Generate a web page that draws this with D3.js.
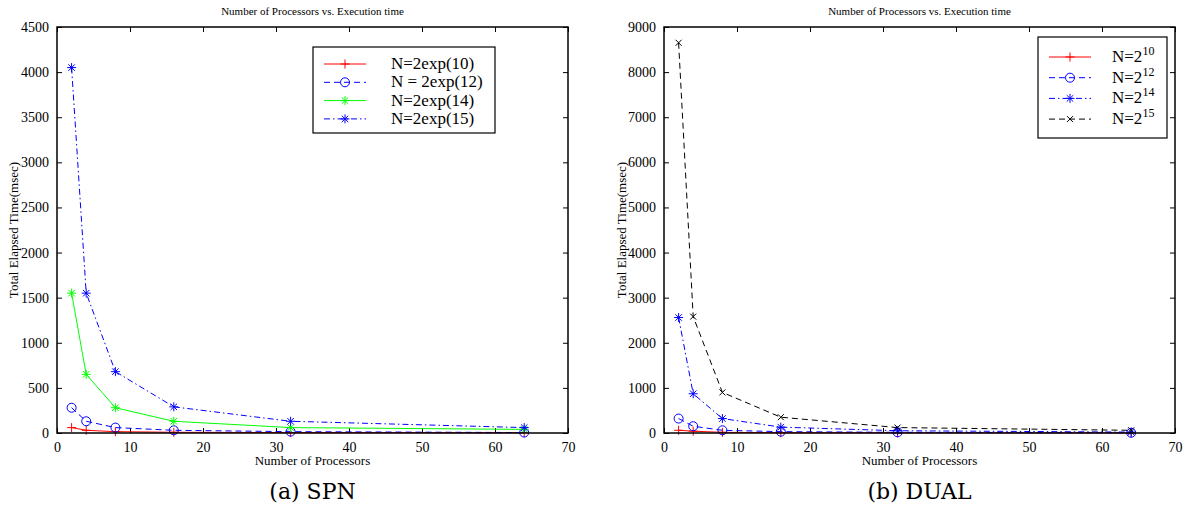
<!DOCTYPE html>
<html>
<head>
<meta charset="utf-8">
<script src="https://cdn.jsdelivr.net/npm/d3@7"></script>
<style>
  body { margin: 0; background: #fff; }
  svg text { font-family: "Liberation Serif", "Times New Roman", serif !important; }
  svg text.cap { font-family: "DejaVu Serif", serif !important; }
</style>
</head>
<body>
<svg id="chart" width="1188" height="509"></svg>
<script>
var procs = [2, 4, 8, 16, 32, 64];

// (a) SPN
var spn10 = [60, 30, 15, 8, 5, 3];
var spn12 = [280, 130, 60, 30, 15, 5];
var spn14 = [1550, 650, 280, 130, 60, 40];
var spn15 = [4050, 1550, 680, 290, 130, 60];

// (b) DUAL
var dual10 = [60, 40, 15, 8, 5, 3];
var dual12 = [320, 150, 60, 30, 15, 5];
var dual14 = [2560, 870, 320, 130, 50, 20];
var dual15 = [8650, 2580, 900, 350, 120, 60];

var xTicks = [0, 10, 20, 30, 40, 50, 60, 70];
var spnTicks = [0, 500, 1000, 1500, 2000, 2500, 3000, 3500, 4000, 4500];
var dualTicks = [0, 1000, 2000, 3000, 4000, 5000, 6000, 7000, 8000, 9000];

var svg = d3.select("#chart");

function marker(g, type, cx, cy, color) {
  var s = 4.5;
  if (type == "plus") {
    g.append("path").attr("d", "M" + (cx - s) + "," + cy + "H" + (cx + s) + "M" + cx + "," + (cy - s) + "V" + (cy + s))
      .attr("stroke", color).attr("fill", "none");
  } else if (type == "circle") {
    g.append("circle").attr("cx", cx).attr("cy", cy).attr("r", 4.5)
      .attr("stroke", color).attr("fill", "none");
  } else if (type == "star") {
    var d = s * 0.72;
    g.append("path").attr("d", "M" + (cx - s) + "," + cy + "H" + (cx + s) + "M" + cx + "," + (cy - s) + "V" + (cy + s)
        + "M" + (cx - d) + "," + (cy - d) + "L" + (cx + d) + "," + (cy + d)
        + "M" + (cx - d) + "," + (cy + d) + "L" + (cx + d) + "," + (cy - d))
      .attr("stroke", color).attr("fill", "none");
  } else if (type == "x") {
    var e = 3;
    g.append("path").attr("d", "M" + (cx - e) + "," + (cy - e) + "L" + (cx + e) + "," + (cy + e)
        + "M" + (cx - e) + "," + (cy + e) + "L" + (cx + e) + "," + (cy - e))
      .attr("stroke", color).attr("fill", "none");
  }
}

function panel(opts) {
  var left = opts.left, right = opts.right, top = 27, bottom = 433;
  var x = d3.scaleLinear().domain([0, 70]).range([left, right]);
  var y = d3.scaleLinear().domain([0, opts.ymax]).range([bottom, top]);
  var g = svg.append("g");

  // inward ticks on all four sides
  g.append("g").attr("transform", "translate(0," + bottom + ")")
    .call(d3.axisBottom(x).tickValues(xTicks).tickFormat(d3.format("d")).tickSizeInner(-5).tickSizeOuter(0).tickPadding(9))
    .call(function(a) { a.select(".domain").remove(); });
  g.append("g").attr("transform", "translate(0," + top + ")")
    .call(d3.axisTop(x).tickValues(xTicks).tickSizeInner(-5).tickSizeOuter(0).tickFormat(""))
    .call(function(a) { a.select(".domain").remove(); });
  g.append("g").attr("transform", "translate(" + left + ",0)")
    .call(d3.axisLeft(y).tickValues(opts.yTicks).tickFormat(d3.format("d")).tickSizeInner(-5).tickSizeOuter(0).tickPadding(8))
    .call(function(a) { a.select(".domain").remove(); });
  g.append("g").attr("transform", "translate(" + right + ",0)")
    .call(d3.axisRight(y).tickValues(opts.yTicks).tickSizeInner(-5).tickSizeOuter(0).tickFormat(""))
    .call(function(a) { a.select(".domain").remove(); });
  g.selectAll("g").attr("font-family", "Liberation Serif");
  g.selectAll(".tick text").attr("font-size", "14px").attr("fill", "#000");
  g.selectAll(".tick line").attr("stroke", "#000");

  var line = d3.line().x(function(d) { return x(d[0]); }).y(function(d) { return y(d[1]); });

  opts.series.forEach(function(s) {
    var pts = procs.map(function(p, i) { return [p, s.values[i]]; });
    g.append("path").datum(pts).attr("d", line)
      .attr("fill", "none").attr("stroke", s.color).attr("stroke-width", 1)
      .attr("stroke-dasharray", s.dash);
    pts.forEach(function(p) { marker(g, s.marker, x(p[0]), y(p[1]), s.color); });
  });

  g.append("rect").attr("x", left).attr("y", top).attr("width", right - left).attr("height", bottom - top)
    .attr("fill", "none").attr("stroke", "#000").attr("stroke-width", 1.5);

  g.append("text").attr("x", (left + right) / 2).attr("y", 15).attr("text-anchor", "middle")
    .attr("font-size", "11px").text("Number of Processors vs. Execution time");
  g.append("text").attr("x", (left + right) / 2).attr("y", 465).attr("text-anchor", "middle")
    .attr("font-size", "13px").text("Number of Processors");
  g.append("text").attr("transform", "translate(" + opts.ylabX + "," + ((top + bottom) / 2) + ") rotate(-90)")
    .attr("text-anchor", "middle").attr("font-size", "13px").text("Total Elapsed Time(msec)");
  g.append("text").attr("class", "cap").attr("x", (left + right) / 2).attr("y", 499).attr("text-anchor", "middle")
    .attr("font-size", "22px").text(opts.caption);

  // legend
  var L = opts.legend;
  g.append("rect").attr("x", L.x).attr("y", L.y).attr("width", L.w).attr("height", L.h)
    .attr("fill", "#fff").attr("stroke", "#000").attr("stroke-width", 1.2);
  opts.series.forEach(function(s, i) {
    var ly = L.y + L.first + i * L.step;
    g.append("line").attr("x1", L.x + 11).attr("x2", L.x + 53).attr("y1", ly).attr("y2", ly)
      .attr("stroke", s.color).attr("stroke-dasharray", s.dash);
    marker(g, s.marker, L.x + 32, ly, s.color);
    var t = g.append("text").attr("x", L.x + L.tx).attr("y", ly + 5).attr("font-size", "17px");
    if (s.exp) {
      t.text(s.base);
      t.append("tspan").attr("dy", -7).attr("font-size", "12px").text(s.exp);
    } else {
      t.text(s.label);
    }
  });
}

var dash = "6,4", dashdot = "6,3,1.5,3";

panel({
  left: 57, right: 568, ymax: 4500, yTicks: spnTicks, ylabX: 18, caption: "(a) SPN",
  legend: {x: 313, y: 47, w: 182, h: 86, first: 17, step: 18.3, tx: 78},
  series: [
    {values: spn10, color: "#ff0000", dash: null, marker: "plus", label: "N=2exp(10)"},
    {values: spn12, color: "#0000ff", dash: dash, marker: "circle", label: "N = 2exp(12)"},
    {values: spn14, color: "#00ff00", dash: null, marker: "star", label: "N=2exp(14)"},
    {values: spn15, color: "#0000ff", dash: dashdot, marker: "star", label: "N=2exp(15)"}
  ]
});

panel({
  left: 664, right: 1175, ymax: 9000, yTicks: dualTicks, ylabX: 626, caption: "(b) DUAL",
  legend: {x: 1038, y: 37, w: 129, h: 101, first: 20, step: 20.7, tx: 74},
  series: [
    {values: dual10, color: "#ff0000", dash: null, marker: "plus", base: "N=2", exp: "10"},
    {values: dual12, color: "#0000ff", dash: dash, marker: "circle", base: "N=2", exp: "12"},
    {values: dual14, color: "#0000ff", dash: dashdot, marker: "star", base: "N=2", exp: "14"},
    {values: dual15, color: "#000000", dash: dash, marker: "x", base: "N=2", exp: "15"}
  ]
});
</script>
</body>
</html>
